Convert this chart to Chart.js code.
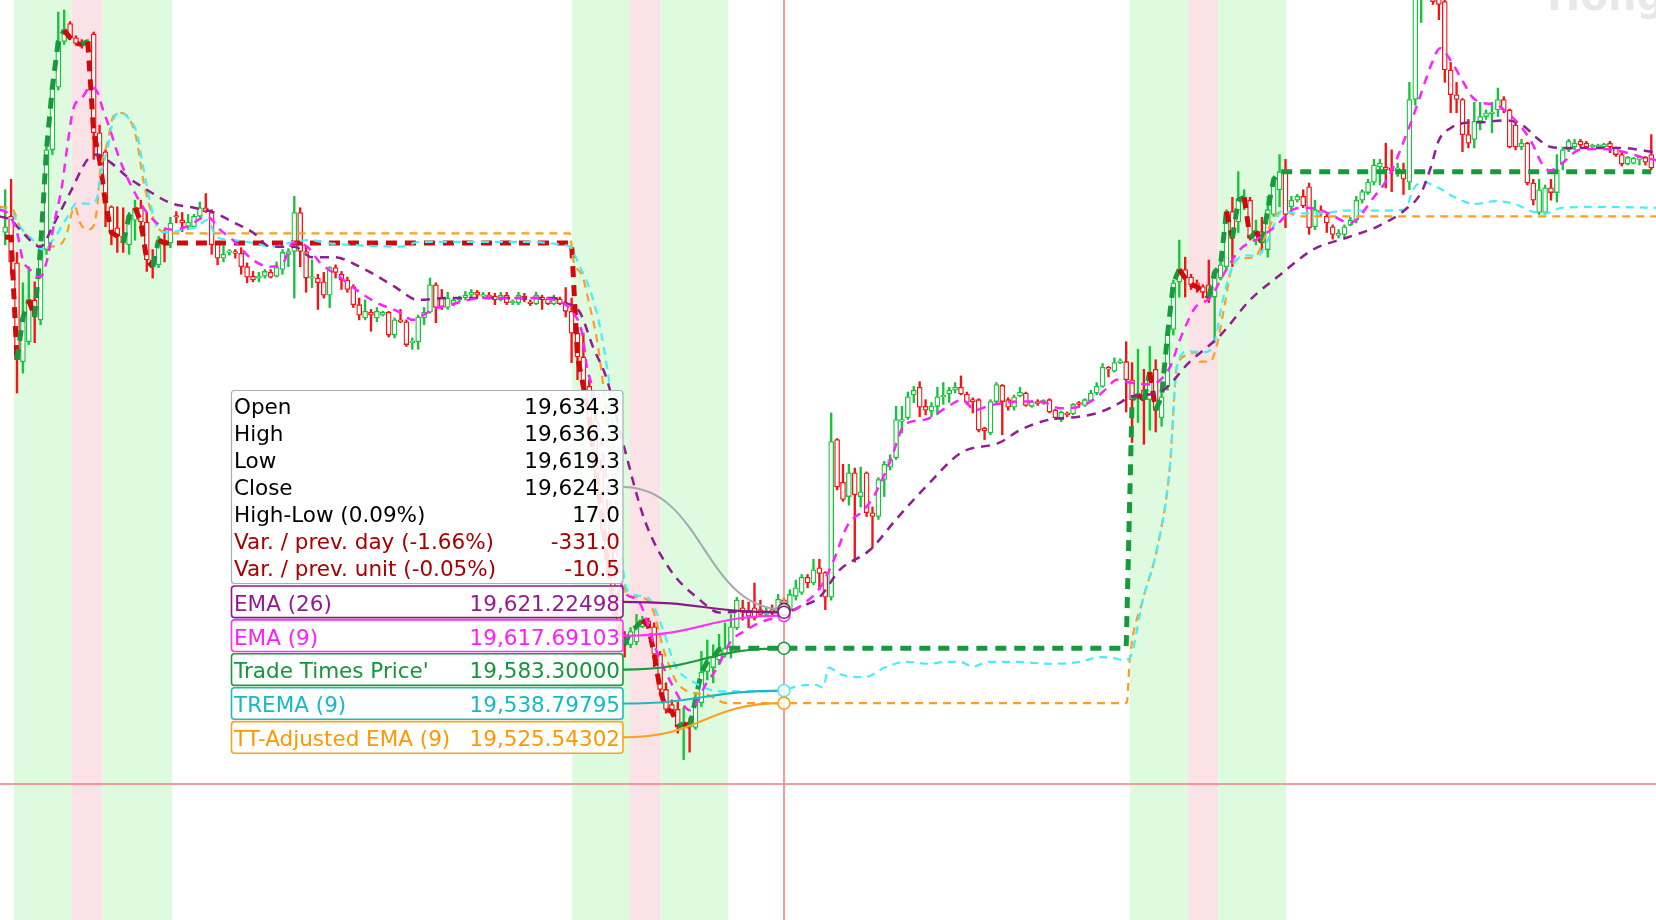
<!DOCTYPE html>
<html><head><meta charset="utf-8">
<script src="https://cdn.jsdelivr.net/npm/chart.js@4.4.1/dist/chart.umd.min.js"></script>
<style>html,body{margin:0;padding:0;background:#fff;overflow:hidden}#wrap{width:1656px;height:920px;position:relative}</style>
</head><body><div id="wrap"><canvas id="c"></canvas></div>
<script>
// ---------- candle data (index = bar number) ----------
const opens = [
20021,20038,19989,19885,19906,19950,19929,20003,20108,20174,
20222,20241,20226,20221,20217,20230,20126,20106,20048,20026,
20017,20008,20034,20047,20032,19992,19987,20013,20010,20038,
20034,20027,20027,20038,20047,20042,20010,19994,20000,20001,
19999,19985,19975,19973,19975,19979,19975,19982,19998,20001,
20042,20001,19973,19973,19969,19955,19984,19977,19971,19964,
19945,19931,19937,19931,19934,19937,19913,19929,19927,19905,
19906,19931,19937,19966,19952,19942,19946,19950,19952,19955,
19958,19954,19955,19954,19950,19955,19947,19947,19954,19948,
19946,19953,19951,19946,19951,19947,19938,19915,19890,19859,
19824,19771,19729,19677,19634,19592,19587,19590,19606,19612,
19606,19577,19540,19524,19519,19501,19506,19500,19526,19559,
19563,19571,19577,19584,19605,19626,19622,19626,19624,19619,
19624,19621,19634.3,19624,19638,19642,19658,19652,19668,19663,
19637,19803,19758,19743,19768,19743,19768,19726,19722,19761,
19774,19784,19822,19826,19850,19858,19838,19833,19838,19848,
19851,19855,19858,19851,19845,19845,19815,19810,19843,19860,
19845,19837,19849,19852,19838,19843,19841,19845,19834,19824,
19831,19830,19842,19839,19844,19852,19859,19879,19875,19884,
19885,19866,19847,19855,19845,19877,19826,19859,19919,19969,
19982,19974,19968,19964,19966,19953,19973,19985,20043,20032,
20052,20055,20013,20022,20003,20040,20066,20085,20048,20055,
20059,20069,20027,20044,20038,20027,20018,20019,20029,20034,
20055,20063,20074,20090,20090,20089,20087,20087,20074,20161,
20277,20308,20287,20282,20264,20192,20166,20161,20124,20119,
20138,20143,20146,20150,20161,20150,20134,20111,20115,20073,
20042,20042,20068,20063,20094,20108,20111,20117,20115,20111,
20111,20111,20115,20110,20103,20093,20094,20098,20100,20103
];
const highs = [
20066,20077,20000,19968,19985,19969,20008,20119,20182,20253,
20255,20243,20228,20224,20224,20232,20134,20108,20049,20048,
20047,20042,20055,20055,20042,20003,20017,20024,20037,20043,
20042,20040,20040,20053,20062,20045,20011,20007,20003,20003,
20005,19989,19980,19979,19982,19982,19990,20003,20004,20059,
20047,20006,19992,19977,19979,19985,19987,19980,19974,19966,
19952,19950,19940,19942,19938,19938,19931,19940,19929,19910,
19934,19942,19973,19968,19961,19958,19952,19954,19959,19961,
19960,19958,19958,19957,19958,19958,19950,19958,19957,19950,
19958,19955,19953,19955,19953,19963,19952,19921,19915,19866,
19834,19782,19740,19692,19645,19601,19605,19619,19617,19615,
19610,19580,19547,19529,19527,19521,19510,19537,19580,19592,
19587,19598,19610,19619,19637,19634,19632,19652,19634,19626,
19629,19640,19636.3,19645,19655,19661,19661,19677,19677,19664,
19831,19804,19777,19777,19773,19774,19769,19732,19763,19780,
19787,19838,19838,19853,19859,19864,19845,19842,19858,19863,
19858,19863,19870,19853,19847,19846,19816,19845,19863,19861,
19847,19850,19858,19853,19844,19845,19845,19846,19835,19833,
19832,19841,19843,19846,19855,19863,19883,19880,19889,19888,
19906,19884,19898,19877,19901,19887,19863,19919,19971,20013,
19995,19977,19971,19966,19992,19982,19990,20045,20058,20085,
20066,20058,20034,20037,20059,20079,20103,20098,20059,20061,
20066,20073,20055,20049,20040,20029,20024,20029,20037,20059,
20066,20077,20098,20098,20115,20108,20094,20094,20179,20298,
20319,20329,20308,20298,20271,20200,20179,20162,20140,20158,
20158,20150,20158,20173,20164,20151,20138,20119,20116,20077,
20077,20071,20077,20103,20111,20119,20119,20119,20117,20114,
20114,20115,20117,20111,20105,20101,20100,20101,20101,20124
];
const lows = [
20008,19977,19852,19873,19903,19905,19924,19998,20103,20171,
20219,20224,20218,20215,20215,20098,20095,20027,20008,20000,
20000,19998,20013,20021,19980,19973,19984,19990,20005,20031,
20022,20024,20026,20037,20042,19998,19987,19990,19997,19994,
19977,19968,19969,19969,19973,19973,19974,19977,19985,19952,
19985,19958,19963,19940,19952,19942,19973,19961,19958,19942,
19929,19929,19917,19927,19933,19911,19910,19926,19901,19898,
19898,19924,19936,19926,19940,19940,19944,19948,19950,19953,
19953,19952,19951,19945,19949,19945,19945,19945,19948,19944,
19945,19940,19945,19945,19945,19932,19884,19866,19855,19803,
19761,19708,19661,19619,19592,19574,19584,19587,19605,19605,
19564,19534,19515,19513,19494,19466,19474,19498,19522,19550,
19547,19566,19574,19573,19603,19613,19605,19613,19617,19617,
19618,19619,19619.3,19622,19634,19640,19647,19650,19645,19624,
19634,19750,19738,19734,19674,19732,19722,19689,19719,19743,
19771,19782,19810,19824,19842,19827,19829,19827,19829,19840,
19842,19852,19850,19840,19831,19811,19803,19808,19840,19808,
19834,19834,19848,19838,19837,19839,19840,19831,19824,19822,
19827,19829,19837,19838,19843,19850,19858,19869,19874,19883,
19832,19800,19821,19798,19813,19811,19817,19855,19913,19953,
19953,19961,19958,19952,19947,19908,19971,19982,19985,20021,
20045,20013,20008,20000,19995,20038,20048,20026,20043,20053,
20047,20019,20024,20038,20021,20014,20015,20015,20028,20031,
20052,20061,20071,20071,20068,20064,20080,20061,20066,20155,
20242,20277,20261,20245,20179,20147,20147,20106,20110,20110,
20129,20140,20126,20143,20147,20110,20108,20108,20071,20050,
20040,20040,20055,20053,20087,20106,20108,20111,20110,20110,
20110,20110,20105,20101,20091,20092,20093,20092,20092,20087
];
const closes = [
20027,19990,19887,19931,19950,19932,20005,20108,20174,20222,
20234,20226,20220,20219,20222,20126,20098,20052,20021,20017,
20010,20038,20047,20032,19992,19985,20013,20010,20031,20037,
20031,20032,20038,20047,20043,20008,19994,19998,20001,19999,
19985,19974,19971,19975,19980,19974,19984,20000,20001,20042,
20001,19973,19974,19968,19955,19984,19979,19971,19961,19945,
19934,19938,19934,19938,19937,19913,19929,19927,19903,19906,
19932,19937,19966,19942,19942,19952,19950,19952,19955,19958,
19955,19955,19953,19950,19955,19947,19948,19955,19950,19946,
19955,19950,19946,19951,19946,19938,19915,19890,19859,19824,
19771,19729,19677,19634,19608,19587,19601,19606,19613,19607,
19577,19540,19519,19517,19501,19504,19501,19529,19558,19569,
19574,19582,19583.3,19606,19634,19621,19617,19615,19619,19621,
19620,19634.8,19624.3,19640,19647,19658,19652,19666,19662,19637,
19801,19753,19740,19768,19745,19748,19726,19722,19761,19777,
19782,19824,19824,19848,19855,19837,19834,19838,19848,19849,
19855,19858,19851,19842,19843,19813,19812,19843,19861,19843,
19837,19848,19853,19839,19843,19841,19844,19832,19826,19832,
19829,19840,19840,19845,19852,19859,19879,19877,19884,19886,
19866,19845,19850,19845,19874,19834,19848,19913,19968,19982,
19973,19966,19964,19958,19953,19979,19987,20043,20015,20055,
20058,20015,20022,20010,20045,20077,20085,20040,20055,20059,
20049,20026,20045,20042,20031,20019,20020,20027,20034,20055,
20064,20074,20092,20094,20087,20086,20089,20077,20161,20282,
20308,20287,20264,20261,20192,20166,20161,20124,20115,20138,
20143,20147,20148,20161,20150,20111,20111,20115,20073,20055,
20066,20068,20063,20087,20108,20117,20115,20113,20111,20113,
20113,20114,20111,20103,20093,20100,20099,20100,20095,20089
];

// ---------- indicator lines: [bar index, value] ----------
const ema26Pts = [[-1,20038],[1,20034],[2.5,20024],[6,20006],[8,20027],[11,20063],[14,20098],[15.6,20103],[18,20094],[20.6,20080],[24,20066],[28,20052],[32,20047],[35,20043],[38.6,20032],[42,20021],[45,20006],[49,20006],[52,19995],[55.6,19995],[61,19982],[66,19964],[70,19950],[75,19952],[84,19952],[93,19952],[95,19947],[97.4,19937],[99.6,19901],[102,19866],[104.7,19800],[108.4,19718],[112.7,19666],[117.8,19634],[121,19621],[126,19622],[132,19621.22498],[134.7,19627],[138,19637],[141.5,19666],[146.6,19687],[151,19719],[156,19753],[162,19789],[168.6,19800],[172,19813],[177,19824],[182,19827],[185.6,19832],[189,19842],[190.6,19848],[195.7,19853],[200.8,19885],[206,19913],[211,19950],[216,19976],[221.7,20003],[227.6,20016],[232.5,20027],[237.3,20045],[240,20063],[241.5,20087],[243,20118],[245,20131],[247,20136],[250,20137],[254.7,20139],[257.6,20132],[259.3,20122],[262,20111],[264.7,20110],[273.7,20110],[280,20105]];
const ema9Pts = [[-1,20045],[0.3,20042],[2,20021],[3,19992],[4.2,19982],[5.9,19974],[7.1,19992],[8.4,20034],[9.6,20069],[10.6,20115],[11.5,20150],[13.2,20164],[14.4,20174],[15.6,20169],[16.6,20150],[17.8,20129],[19,20105],[20.6,20080],[22.3,20059],[24,20042],[25.7,20031],[27.9,20024],[30.8,20027],[34.2,20038],[36.4,20024],[38.6,20013],[42,19992],[44.9,19985],[47.1,19989],[48.8,20010],[51.2,20006],[53.4,19989],[56.7,19974],[60.1,19958],[63,19947],[66.9,19937],[69.1,19929],[70.3,19932],[72.5,19940],[75.4,19945],[81,19952],[89.5,19952],[94.5,19947],[96.2,19937],[97.8,19915],[98.6,19880],[99.6,19855],[101.7,19771],[103.4,19697],[104.7,19645],[107.2,19634],[110.3,19582],[113.2,19543],[116.1,19518],[118.8,19546],[120.8,19564],[122.9,19590],[125.2,19601],[128.6,19612],[132,19617.69103],[135.7,19632],[138.1,19647],[140.3,19674],[142.8,19713],[145.4,19728],[147.1,19742],[150,19780],[152.5,19819],[155.9,19824],[160.1,19839],[162.2,19845],[164.4,19834],[166.9,19839],[172,19843],[175.4,19843],[178.8,19836],[182.2,19838],[184.7,19846],[186.7,19857],[188.4,19866],[190.6,19863],[194,19861],[197.4,19879],[199.1,19908],[201.7,19942],[204.2,19952],[206.7,19979],[209.3,20003],[212.7,20016],[215.2,20027],[218.6,20046],[220.6,20047],[222.8,20045],[224.9,20039],[227.9,20031],[232.2,20060],[234.4,20079],[238.1,20134],[239.8,20164],[241.8,20199],[243.2,20215],[244.9,20203],[246.9,20182],[248.6,20164],[250.5,20157],[252.5,20156],[254.4,20148],[256.7,20134],[258.8,20115],[260.5,20093],[261.8,20086],[263.9,20094],[266.9,20108],[270.5,20109],[273.2,20107],[275.4,20104],[277.6,20100],[280,20097]];
const tremaPts = [[-1,20045],[0.8,20044],[2.5,20027],[4.7,20013],[6.4,20003],[8.1,20013],[10.5,20037],[12.2,20052],[14.4,20051],[15.6,20058],[16.1,20079],[17.3,20108],[18.3,20139],[19.5,20147],[21.2,20139],[22.3,20126],[23.4,20090],[24.5,20055],[25.7,20027],[27.4,20021],[30.1,20024],[32.5,20027],[34.2,20034],[35.9,20016],[38.6,20013],[42,20010],[45.4,20006],[48.8,20011],[51.7,20013],[54.5,20010],[58.4,20008],[66.9,20006],[70.3,20011],[89.5,20011],[94.5,20008],[95.7,20006],[97.4,19985],[99.1,19961],[100.8,19922],[102,19879],[102.5,19855],[103.7,19739],[105.4,19645],[108.8,19637],[111.5,19603],[113.5,19566],[116.9,19547],[121.2,19538],[128,19538],[132,19538.79795],[133.9,19543],[137.3,19545],[138.6,19542],[139.6,19563],[141.5,19556],[145.7,19553],[149.1,19563],[152.5,19569],[156.7,19567],[159.3,19569],[161.8,19569],[164,19564],[166.6,19569],[171.3,19569],[177.1,19567],[182.2,19569],[185.6,19574],[187.8,19573],[189.5,19571],[190.6,19573],[192.8,19634],[195.2,19687],[197.4,19774],[198.6,19880],[200.5,19896],[203.3,19895],[205.1,19908],[206.2,19945],[208.1,19986],[210.6,19997],[212.2,19996],[214,20013],[215.2,20031],[216.4,20044],[218.6,20041],[222.8,20041],[227.1,20044],[232.2,20044],[237.3,20045],[238.6,20066],[240.3,20074],[242.9,20068],[245.7,20058],[249.1,20051],[252.5,20054],[255.9,20051],[258.8,20043],[261,20041],[263.9,20047],[270.3,20048],[280,20047]];
const ttAdjPts = [[-1,20048],[1.3,20045],[2.5,20027],[4.7,20013],[6.4,20003],[7.6,20006],[9.3,20008],[10.5,20021],[11.3,20042],[11.8,20048],[12.7,20031],[13.9,20024],[14.9,20027],[15.6,20048],[16.1,20084],[17.3,20115],[18.3,20143],[19.5,20147],[21.2,20139],[22.3,20118],[23.4,20076],[24.5,20048],[25.7,20027],[27.4,20021],[28.4,20020],[95.7,20020],[96.2,19995],[97.9,19974],[99.1,19943],[100.3,19908],[101.3,19863],[103.4,19739],[105.4,19639],[107.6,19637],[109.6,19627],[111.8,19578],[114.4,19543],[119.1,19534],[122.3,19525.54302],[132,19525.54302],[190.1,19525.54302],[190.6,19571],[192.8,19634],[195.2,19687],[197.4,19774],[198.6,19880],[200.5,19892],[201.7,19895],[202.5,19885],[204.2,19885],[205.4,19903],[206.7,19945],[208.1,19988],[209.8,19994],[211.8,19995],[213.5,20016],[215.6,20041],[216.9,20043],[218.3,20040],[219.5,20038],[280,20038]];

// Trade Times Price: follows the close inside trading windows, holds outside
const ttpTrackRanges = [[2,27],[97,122],[191,216]];
const ttpStart = 20016;

// shaded sessions [from, to, kind] in bar-index units
const shadeBands = [[1.5,11.3,'g'],[11.3,16.4,'p'],[16.4,28.3,'g'],[96.1,105.9,'g'],[105.9,111,'p'],[111,122.5,'g'],[190.6,200.5,'g'],[200.5,205.6,'p'],[205.6,217.1,'g']];

const cursorIndex = 132;
const cursorPrice = 19440.5;
const prevDayClose = 19955.3;
const viewX = [-0.88, 279.8];
const viewY = [19297.3, 20265.7];

// ---------- build ----------
const N = closes.length;
const GREEN = '#14c43a', RED = '#f41414';
const candleCol = closes.map((c,i)=> c >= opens[i] ? GREEN : RED);
const bodyData = closes.map((c,i)=>({x:i, y:[opens[i], c]}));
const wickData = closes.map((c,i)=>({x:i, y:[lows[i], highs[i]]}));
const toXY = a => a.map(p=>({x:p[0], y:p[1]}));

const ttp = []; let held = ttpStart;
for (let i=0;i<N;i++){ if (ttpTrackRanges.some(r=>i>=r[0]&&i<=r[1])) held = closes[i]; ttp.push({x:i,y:held}); }
const ttpDir = [-1]; let dir = -1;
for (let i=1;i<N;i++){ const d = ttp[i].y - ttp[i-1].y; if (d>0) dir=1; else if (d<0) dir=-1; ttpDir.push(dir); }

const valAt = (pts, i) => pts.find(p=>p[0]===i)[1];

const FONT = '21.5px "DejaVu Sans"';
const fmt = (v,d) => v.toLocaleString('en-US',{minimumFractionDigits:d, maximumFractionDigits:d});

const bgPlugin = {
  id:'bg',
  beforeDatasetsDraw(chart){
    const {ctx, chartArea:a, scales:{x}} = chart;
    ctx.save();
    for (const [s,e,k] of shadeBands){
      const x0 = x.getPixelForValue(s), x1 = x.getPixelForValue(e);
      ctx.fillStyle = k==='g' ? '#dffbdf' : '#fbe2e6';
      ctx.fillRect(x0, a.top, x1-x0, a.bottom-a.top);
    }
    ctx.font = 'bold 40px "DejaVu Sans"';
    ctx.fillStyle = 'rgba(0,0,0,0.09)';
    ctx.textBaseline = 'alphabetic';
    ctx.fillText('Hong Kong', 1547, 10);
    ctx.restore();
  }
};

function rrect(ctx,x,y,w,h,r){ ctx.beginPath(); if (ctx.roundRect) ctx.roundRect(x,y,w,h,r); else ctx.rect(x,y,w,h); }

const overlayPlugin = {
  id:'overlay',
  afterDraw(chart){
    const {ctx, chartArea:a, scales:{x,y}} = chart;
    const cx = x.getPixelForValue(cursorIndex);
    const cy = y.getPixelForValue(cursorPrice);
    ctx.save();
    // crosshair
    ctx.strokeStyle = 'rgba(242,140,140,0.85)';
    ctx.lineWidth = 2;
    ctx.beginPath(); ctx.moveTo(cx, a.top); ctx.lineTo(cx, a.bottom); ctx.stroke();
    ctx.beginPath(); ctx.moveTo(a.left, cy); ctx.lineTo(a.right, cy); ctx.stroke();

    const iC = cursorIndex;
    const o = opens[iC], h = highs[iC], l = lows[iC], c = closes[iC], pc = closes[iC-1];
    const rows = [
      ['Open', fmt(o,1), '#000'],
      ['High', fmt(h,1), '#000'],
      ['Low', fmt(l,1), '#000'],
      ['Close', fmt(c,1), '#000'],
      ['High-Low ('+(100*(h-l)/c).toFixed(2)+'%)', fmt(h-l,1), '#000'],
      ['Var. / prev. day ('+(100*(c-prevDayClose)/prevDayClose).toFixed(2)+'%)', fmt(c-prevDayClose,1), '#a80000'],
      ['Var. / prev. unit ('+(100*(c-pc)/pc).toFixed(2)+'%)', fmt(c-pc,1), '#a80000']
    ];
    const subs = [
      ['EMA (26)', valAt(ema26Pts,iC), '#941a94', '#8a1a8a', '#8a1a8a'],
      ['EMA (9)', valAt(ema9Pts,iC), '#ff1cff', '#ff33ff', '#ff33ff'],
      ["Trade Times Price'", ttp[iC].y, '#14963a', '#1b9a3c', '#1b9a3c'],
      ['TREMA (9)', valAt(tremaPts,iC), '#17b9c3', '#22b6c2', '#5ae6f2'],
      ['TT-Adjusted EMA (9)', valAt(ttAdjPts,iC), '#ff9800', '#ffa01e', '#ffa01e']
    ];
    const boxL = 231.5, boxR = 623, mainTop = 390.5, mainBot = 583.5;
    const subTop0 = 586, subStep = 33.9, subH = 31.6;

    // connectors
    const curve = (x0,y0,x1,y1,col,w) => {
      const mx = (x0+x1)/2;
      ctx.strokeStyle = col; ctx.lineWidth = w;
      ctx.beginPath(); ctx.moveTo(x0,y0); ctx.bezierCurveTo(mx,y0,mx,y1,x1,y1); ctx.stroke();
    };
    const closeY = y.getPixelForValue(c);
    curve(boxR, 487, cx, closeY, '#a2a9b0', 2);
    const subYs = subs.map(s=>y.getPixelForValue(s[1]));
    subs.forEach((s,k)=>{ curve(boxR, subTop0 + k*subStep + subH/2, cx, subYs[k], s[3], 2.2); });
    // circles
    const circ = (py,col) => { ctx.beginPath(); ctx.arc(cx, py, 6, 0, Math.PI*2); ctx.fillStyle='rgba(255,255,255,0.85)'; ctx.fill(); ctx.strokeStyle=col; ctx.lineWidth=1.6; ctx.stroke(); };
    circ(subYs[1], subs[1][4]);
    circ(closeY, '#4a4a4a');
    circ(subYs[0], subs[0][4]);
    circ(subYs[2], subs[2][4]);
    circ(subYs[3], subs[3][4]);
    circ(subYs[4], subs[4][4]);

    // main tooltip box
    rrect(ctx, boxL, mainTop, boxR-boxL, mainBot-mainTop, 3);
    ctx.fillStyle = 'rgba(255,255,255,0.88)'; ctx.fill();
    ctx.strokeStyle = '#a6aeb6'; ctx.lineWidth = 1.2; ctx.stroke();
    ctx.font = FONT; ctx.textBaseline = 'alphabetic';
    rows.forEach((r,k)=>{
      const by = 414.3 + k*26.9;
      ctx.fillStyle = r[2];
      ctx.textAlign = 'left'; ctx.fillText(r[0], 234, by);
      ctx.textAlign = 'right'; ctx.fillText(r[1], 620, by);
    });
    // indicator boxes
    subs.forEach((s,k)=>{
      const top = subTop0 + k*subStep;
      rrect(ctx, boxL, top, boxR-boxL, subH, 3);
      ctx.fillStyle = 'rgba(255,255,255,0.88)'; ctx.fill();
      ctx.strokeStyle = s[3]; ctx.lineWidth = 1.6; ctx.stroke();
      ctx.fillStyle = s[2];
      ctx.textAlign = 'left'; ctx.fillText(s[0], 234, top + 24.6);
      ctx.textAlign = 'right'; ctx.fillText(fmt(s[1],5), 620, top + 24.6);
    });
    ctx.restore();
  }
};

const lineBase = {type:'line', pointRadius:0, fill:false, cubicInterpolationMode:'monotone'};
new Chart(document.getElementById('c'), {
  type:'bar',
  data:{ datasets:[
    {...lineBase, label:'EMA (9)', data:toXY(ema9Pts), borderColor:'#ff22ff', borderWidth:2.5, borderDash:[9,7], order:1},
    {...lineBase, label:'EMA (26)', data:toXY(ema26Pts), borderColor:'#921c92', borderWidth:2.5, borderDash:[9,7], order:2},
    {...lineBase, label:'TREMA (9)', data:toXY(tremaPts), borderColor:'#44eefc', borderWidth:2.2, borderDash:[8,6], order:3},
    {...lineBase, label:'TT-Adjusted EMA (9)', data:toXY(ttAdjPts), borderColor:'#ff9d1e', borderWidth:2.2, borderDash:[8,6], order:4},
    {type:'line', label:"Trade Times Price'", data:ttp, pointRadius:0, fill:false, tension:0, borderWidth:5, borderDash:[11,8], borderColor:'#179a3c',
      segment:{ borderColor: ctx => ttpDir[ctx.p1DataIndex] > 0 ? '#179a3c' : '#cf0a0a' }, order:5},
    {type:'bar', label:'body', data:bodyData, backgroundColor:'#ffffff', borderColor:candleCol, borderWidth:1.3, borderSkipped:false, barThickness:5, grouped:false, minBarLength:1.6, order:9},
    {type:'bar', label:'wick', data:wickData, backgroundColor:candleCol, borderWidth:0, barThickness:1.7, grouped:false, order:10}
  ]},
  options:{
    responsive:true, maintainAspectRatio:false, animation:false, devicePixelRatio:1, events:[],
    layout:{padding:0},
    plugins:{legend:{display:false}, tooltip:{enabled:false}},
    scales:{
      x:{type:'linear', min:viewX[0], max:viewX[1], display:false, offset:false},
      y:{type:'linear', min:viewY[0], max:viewY[1], display:false, beginAtZero:false}
    }
  },
  plugins:[bgPlugin, overlayPlugin]
});
</script>
</body></html>
